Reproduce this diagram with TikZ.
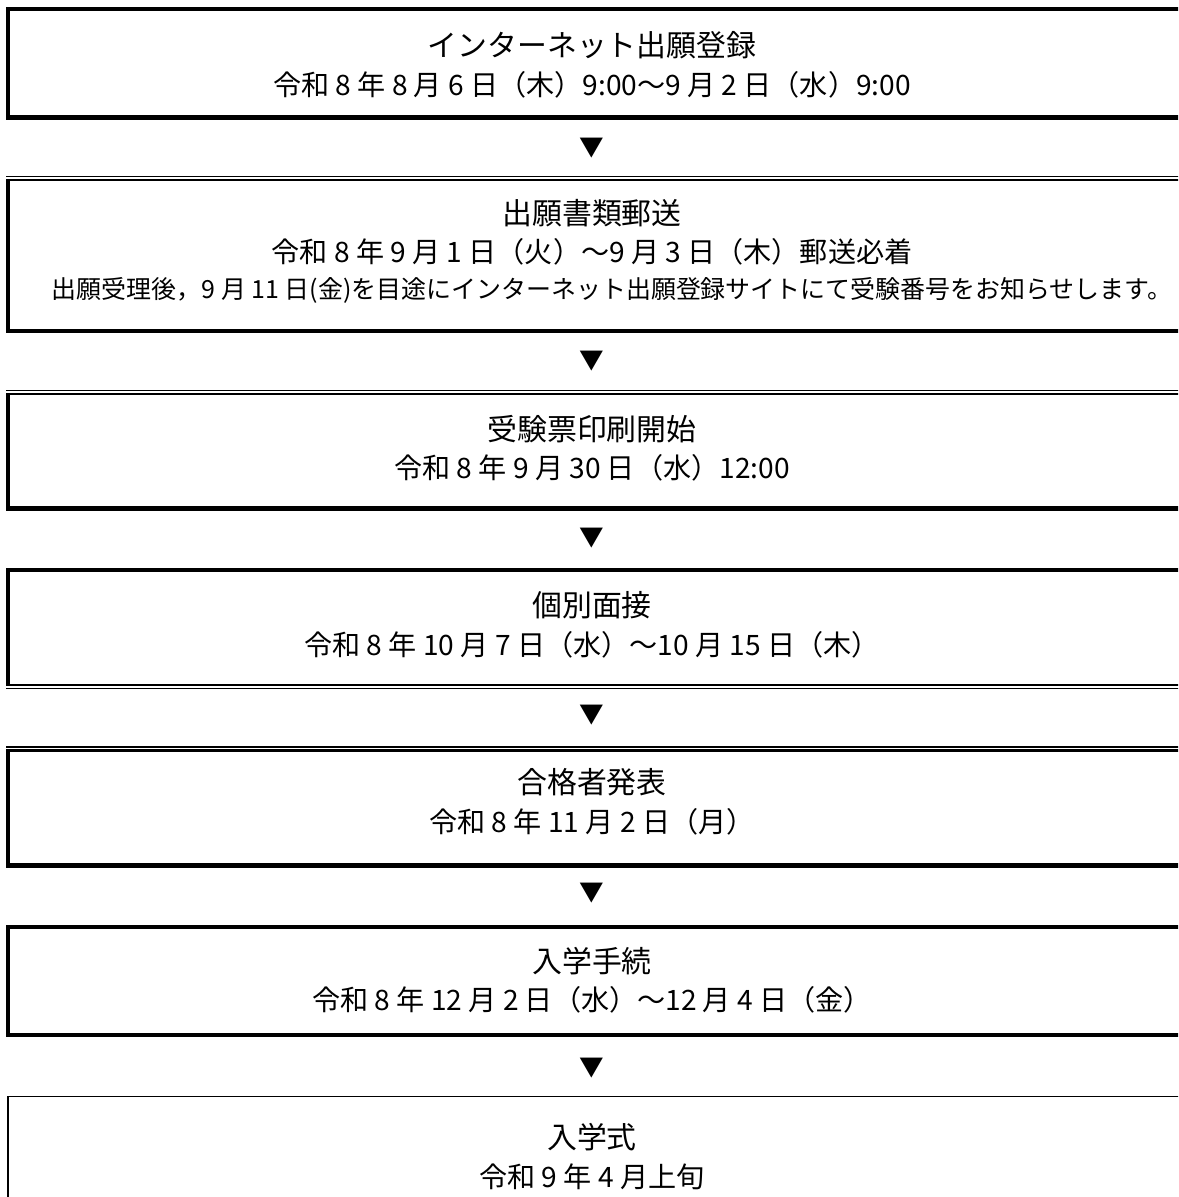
\documentclass[tikz,border=0pt]{standalone}
\usepackage{fontspec}
\setmainfont{Noto Sans CJK JP}

\begin{document}
\begin{tikzpicture}
[x=0.02cm, y=-0.02cm, font=\fontsize{17}{20}\selectfont,
% STYLES
every node/.style={inner sep=0pt},
% The stage style is used to write the name of each step
stage/.style={rectangle, anchor=center, text badly centered},
% The date style is used to write the date of each step
date/.style={rectangle, anchor=center, font=\fontsize{16}{20}\selectfont},
% The note style is used for the small remark under a date
note/.style={rectangle, anchor=center, font=\fontsize{14.2}{16}\selectfont},
% The down style draws the triangle between two steps
down/.style={rectangle, anchor=center, font=\fontsize{14}{16}\selectfont},
% The line styles are used to draw the frames of the steps
heavy/.style={line width=2.3pt},
medium/.style={line width=1.4pt},
light/.style={line width=1.1pt},
hair/.style={line width=0.65pt}]

\useasboundingbox (0,0) rectangle (1178,1197);
\clip (0,0) rectangle (1178,1197);

% Draw frames
\draw[heavy] (1200,9) -- (8,9) -- (8,117.5) -- (1200,117.5);

\draw[hair] (6,176.4) -- (1200,176.4);
\draw[medium] (6,180) -- (1200,180);
\draw[heavy] (8,180) -- (8,331) -- (1200,331);

\draw[hair] (6,390.5) -- (1200,390.5);
\draw[medium] (6,394) -- (1200,394);
\draw[heavy] (8,394) -- (8,508.5) -- (1200,508.5);

\draw[heavy] (1200,570) -- (8,570) -- (8,684.8);
\draw[medium] (6,684.8) -- (1200,684.8);
\draw[hair] (6,688.3) -- (1200,688.3);

\draw[hair] (6,747) -- (1200,747);
\draw[medium] (6,750.5) -- (1200,750.5);
\draw[heavy] (8,750.5) -- (8,865.5) -- (1200,865.5);

\draw[heavy] (1200,927) -- (8,927) -- (8,1035) -- (1200,1035);

\draw[light] (1200,1096.5) -- (8.3,1096.5) -- (8.3,1210);

%%%%%%%%%%%%%%%
% Steps

% apply
\node [stage] (apply) at (592,45) {インターネット出願登録};
\node [date] (apply-date) at (592,85) {令和 8 年 8 月 6 日（木）9:00～9 月 2 日（水）9:00};

% mail
\node [stage] (mail) at (592,213) {出願書類郵送};
\node [date] (mail-date) at (592,252) {令和 8 年 9 月 1 日（火）～9 月 3 日（木）郵送必着};
\node [note] (mail-note) at (612,290) {出願受理後，9 月 11 日(金)を目途にインターネット出願登録サイトにて受験番号をお知らせします。};

% ticket
\node [stage] (ticket) at (592,429) {受験票印刷開始};
\node [date] (ticket-date) at (592,468) {令和 8 年 9 月 30 日（水）12:00};

% interview
\node [stage] (interview) at (592,605) {個別面接};
\node [date] (interview-date) at (592,645) {令和 8 年 10 月 7 日（水）～10 月 15 日（木）};

% result
\node [stage] (result) at (592,782) {合格者発表};
\node [date] (result-date) at (592,822) {令和 8 年 11 月 2 日（月）};

% enrol
\node [stage] (enrol) at (592,961) {入学手続};
\node [date] (enrol-date) at (592,1000) {令和 8 年 12 月 2 日（水）～12 月 4 日（金）};

% ceremony
\node [stage] (ceremony) at (592,1137) {入学式};
\node [date] (ceremony-date) at (592,1177) {令和 9 年 4 月上旬};

%%%%%%%%%%%%%%%
% Draw the triangles between steps
\node [down] (down1) at (592,148) {▼};
\node [down] (down2) at (592,361) {▼};
\node [down] (down3) at (592,538) {▼};
\node [down] (down4) at (592,715) {▼};
\node [down] (down5) at (592,893) {▼};
\node [down] (down6) at (592,1068) {▼};

\end{tikzpicture}
\end{document}
